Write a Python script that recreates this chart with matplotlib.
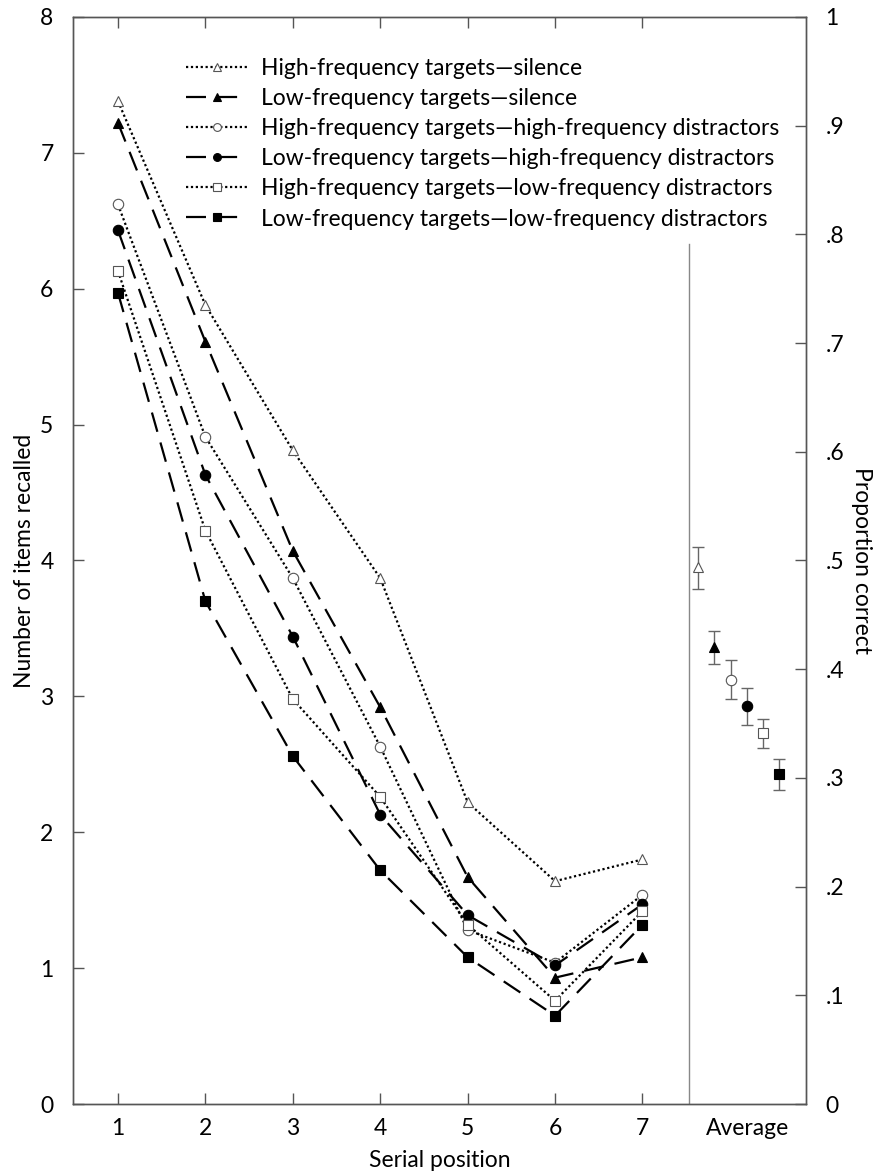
import matplotlib.pyplot as plt

plt.rcParams['font.family'] = ['Lato', 'DejaVu Sans']

# Posiciones seriales
posiciones = [1, 2, 3, 4, 5, 6, 7]

# Numero de items recordados por condicion
hf_silencio = [7.38, 5.88, 4.81, 3.87, 2.22, 1.64, 1.80]
lf_silencio = [7.22, 5.61, 4.07, 2.92, 1.67, 0.93, 1.08]
hf_hf = [6.62, 4.91, 3.87, 2.63, 1.28, 1.04, 1.54]
lf_hf = [6.43, 4.63, 3.44, 2.13, 1.39, 1.02, 1.47]
hf_lf = [6.13, 4.22, 2.98, 2.26, 1.32, 0.76, 1.42]
lf_lf = [5.97, 3.70, 2.56, 1.72, 1.08, 0.65, 1.32]

# Promedios con barras de error (limite inferior, superior)
promedios = [3.95, 3.36, 3.12, 2.93, 2.73, 2.43]
err_sup = [4.10, 3.48, 3.27, 3.06, 2.83, 2.54]
err_inf = [3.79, 3.24, 2.98, 2.79, 2.62, 2.31]
x_promedio = [7.64, 7.82, 8.01, 8.19, 8.38, 8.56]

etiquetas = ['High-frequency targets\u2014silence',
             'Low-frequency targets\u2014silence',
             'High-frequency targets\u2014high-frequency distractors',
             'Low-frequency targets\u2014high-frequency distractors',
             'High-frequency targets\u2014low-frequency distractors',
             'Low-frequency targets\u2014low-frequency distractors']

series = [hf_silencio, lf_silencio, hf_hf, lf_hf, hf_lf, lf_lf]
marcadores = ['^', '^', 'o', 'o', 's', 's']
rellenos = ['white', 'black', 'white', 'black', 'white', 'black']
bordes = ['#555555', 'black', '#555555', 'black', '#555555', 'black']
punteado = (0, (1, 1.2))
rayado = (0, (9, 5))
estilos = [punteado, rayado, punteado, rayado, punteado, rayado]

gris = '#555555'
tam = 16.5

fig = plt.figure(figsize=(8.75, 11.71), dpi=100)
ax = fig.add_axes([0.0834, 0.0572, 0.8377, 0.9283])

for i, s in enumerate(series):
    ax.plot(posiciones, s, linestyle=estilos[i], color='black', linewidth=1.6,
            marker=marcadores[i], markersize=7.5, markerfacecolor=rellenos[i],
            markeredgecolor=bordes[i], markeredgewidth=0.8, label=etiquetas[i],
            zorder=3)

# Promedios
for i in range(len(promedios)):
    ax.errorbar(x_promedio[i], promedios[i],
                yerr=[[promedios[i] - err_inf[i]], [err_sup[i] - promedios[i]]],
                fmt='none', ecolor='#666666', elinewidth=1.0, capsize=4, capthick=1.0,
                zorder=2)
    ax.plot(x_promedio[i], promedios[i], linestyle='none', marker=marcadores[i],
            markersize=7.5, markerfacecolor=rellenos[i], markeredgecolor=bordes[i],
            markeredgewidth=0.8, zorder=3)

# Separador entre posiciones y promedio
ax.axvline(7.53, ymin=0, ymax=6.33 / 8, color='#888888', linewidth=1.0)

ax.set_xlim(0.485, 8.87)
ax.set_ylim(0, 8)
ax.set_xticks(posiciones)
ax.set_xticklabels([str(p) for p in posiciones])
ax.set_xticks([8.2], ['Average'], minor=True)
ax.set_yticks(range(0, 9))
ax.tick_params(axis='both', which='major', direction='in', length=8, width=1,
               color=gris, labelsize=tam, pad=10, top=True)
ax.tick_params(axis='x', which='minor', length=0, labelsize=tam, pad=10)
ax.tick_params(axis='y', pad=14)

ax.set_xlabel('Serial position', fontsize=tam, labelpad=8)
ax.set_ylabel('Number of items recalled', fontsize=tam, labelpad=4)

for sp in ax.spines.values():
    sp.set_color(gris)
    sp.set_linewidth(1.0)

ax2 = ax.twinx()
ax2.set_ylim(0, 1)
valores_prop = [i / 10 for i in range(11)]
ax2.set_yticks(valores_prop)
ax2.set_yticklabels(['0'] + ['.%d' % i for i in range(1, 10)] + ['1'])
ax2.tick_params(axis='y', direction='in', length=8, width=1, color=gris,
                labelsize=tam, pad=14)
ax2.set_ylabel('Proportion correct', fontsize=tam, rotation=270, labelpad=20)
for sp in ax2.spines.values():
    sp.set_color(gris)
    sp.set_linewidth(1.0)

ax.legend(loc='upper left', bbox_to_anchor=(0.142, 0.971), frameon=False,
          fontsize=tam, handlelength=2.7, handletextpad=0.55, labelspacing=0.4,
          markerscale=0.75, borderaxespad=0)

plt.savefig('out.png', dpi=100)
